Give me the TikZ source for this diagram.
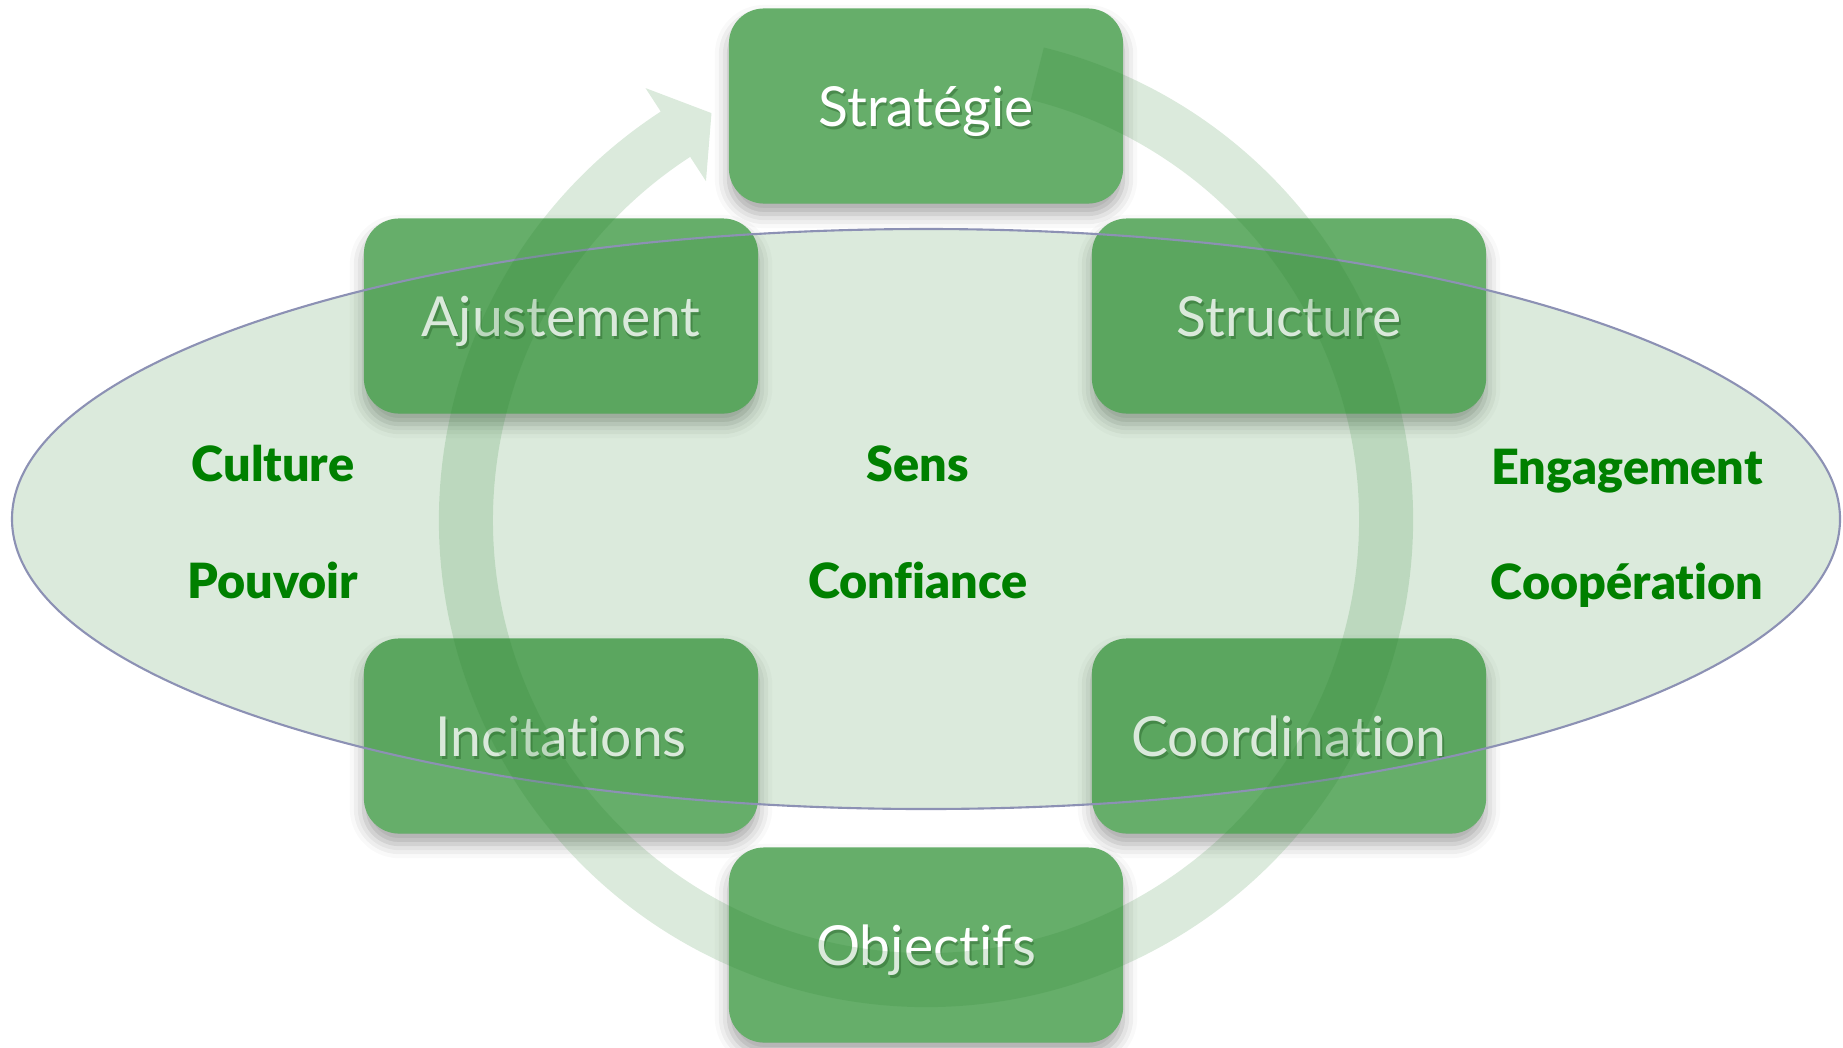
\documentclass[tikz,border=0pt]{standalone}
\usepackage{fontspec}
\setmainfont{Lato}[Ligatures={NoCommon}]
\newfontfamily\wordfont{Lato Black}[Ligatures={NoCommon}]
\usetikzlibrary{shadows.blur}
\definecolor{boxgreen}{RGB}{102,174,106}
\definecolor{ringgreen}{RGB}{40,130,45}
\definecolor{rimblue}{RGB}{140,145,180}
\definecolor{txtshadow}{RGB}{74,138,77}
\definecolor{wordgreen}{RGB}{0,128,0}
\tikzstyle{box}=[rectangle,rounded corners=10pt,fill=boxgreen,minimum width=3.94cm,minimum height=1.95cm,
  blur shadow={shadow xshift=0pt,shadow yshift=-3pt,shadow blur radius=4pt,shadow opacity=35},
  text=white,text height=13.4pt,text depth=2pt,font=\fontsize{15.7}{18}\selectfont]
\tikzstyle{word}=[text=wordgreen,font=\fontsize{13.8}{16}\wordfont]
\newcommand{\shtext}[1]{\makebox[0pt][l]{\hspace{0.5pt}\raisebox{-1pt}{\color{txtshadow}#1}}#1}

\begin{document}
\begin{tikzpicture}[x=0.01cm,y=0.01cm]
                    \useasboundingbox (0,0) rectangle (1843,1047);

                    \node (strat) at (926,941) [box] {\shtext{Stratégie}};
                    \node (ajust) at (561,731) [box] {\shtext{Ajustement}};
                    \node (struc) at (1289,731) [box] {\shtext{Structure}};
                    \node (incit) at (561,311) [box] {\shtext{Incitations}};
                    \node (coord) at (1289,311) [box] {\shtext{Coordination}};
                    \node (objec) at (926,102) [box] {\shtext{Objectifs}};

                    % the ellipse lies over the boxes
                    \draw [fill=ringgreen,fill opacity=0.17,draw=rimblue,line width=0.6pt]
                        (926,528) ellipse [x radius=914,y radius=290];

                    % circular arrow
                    \begin{scope}[shift={(926,527)}]
                    \fill [ringgreen,opacity=0.17] (76:487) arc [start angle=76,end angle=-237,radius=487]
                        -- (-237:515) -- (-242.2:460) -- (-237:404) -- (-237:433)
                        arc [start angle=-237,end angle=76,radius=433] -- cycle;
                    \end{scope}

                    \node (cult) at (273,583) [word] {Culture};
                    \node (pouv) at (273,467) [word] {Pouvoir};
                    \node (sens) at (918,583) [word] {Sens};
                    \node (conf) at (918,467) [word] {Confiance};
                    \node (enga) at (1627,576) [word] {Engagement};
                    \node (coop) at (1627,462) [word] {Coopération};
                \end{tikzpicture}
\end{document}
